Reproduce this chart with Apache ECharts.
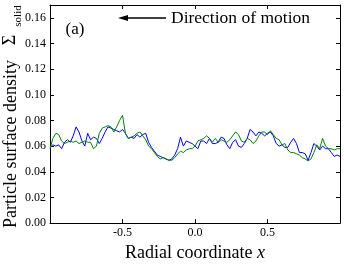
<!DOCTYPE html>
<html>
<head>
<meta charset="utf-8">
<script src="https://cdn.jsdelivr.net/npm/echarts@6/dist/echarts.min.js"></script>
<style>
  html, body { margin: 0; padding: 0; background: #fff; }
  #chart { width: 344px; height: 267px; }
</style>
</head>
<body>
<div id="chart"></div>
<script>
// radial grid: x from -1 to 1, one sample every 0.02
var xStart = -1;
var xStep = 0.02;

// blue run
var blueVals = [
  0.059, 0.061, 0.060, 0.061, 0.058, 0.063, 0.065, 0.063, 0.068, 0.075,
  0.071, 0.064, 0.060, 0.070, 0.065, 0.067, 0.066, 0.062, 0.066, 0.071,
  0.075, 0.074, 0.073, 0.072, 0.071, 0.073, 0.070, 0.066, 0.067, 0.066,
  0.069, 0.067, 0.069, 0.070, 0.063, 0.059, 0.056, 0.053, 0.052, 0.051,
  0.050, 0.049, 0.050, 0.053, 0.058, 0.067, 0.060, 0.064, 0.063, 0.062,
  0.060, 0.058, 0.064, 0.064, 0.062, 0.066, 0.062, 0.062, 0.063, 0.067,
  0.066, 0.061, 0.058, 0.063, 0.065, 0.060, 0.059, 0.062, 0.066, 0.073,
  0.071, 0.068, 0.071, 0.070, 0.068, 0.070, 0.071, 0.068, 0.062, 0.060,
  0.061, 0.059, 0.059, 0.063, 0.066, 0.062, 0.055, 0.055, 0.054, 0.049,
  0.055, 0.062, 0.060, 0.057, 0.060, 0.058, 0.058, 0.055, 0.052, 0.053,
  0.052
];

// green run
var greenVals = [
  0.058, 0.066, 0.070, 0.069, 0.064, 0.062, 0.063, 0.064, 0.063, 0.064,
  0.062, 0.063, 0.064, 0.063, 0.063, 0.058, 0.060, 0.070, 0.074, 0.075,
  0.076, 0.075, 0.071, 0.075, 0.080, 0.084, 0.070, 0.066, 0.067, 0.068,
  0.070, 0.071, 0.068, 0.065, 0.060, 0.058, 0.055, 0.052, 0.050, 0.051,
  0.050, 0.049, 0.049, 0.051, 0.054, 0.056, 0.055, 0.057, 0.058, 0.058,
  0.060, 0.064, 0.065, 0.066, 0.068, 0.066, 0.063, 0.066, 0.063, 0.065,
  0.064, 0.063, 0.065, 0.068, 0.071, 0.069, 0.064, 0.063, 0.066, 0.065,
  0.062, 0.064, 0.068, 0.071, 0.071, 0.069, 0.072, 0.069, 0.066, 0.065,
  0.061, 0.062, 0.057, 0.055, 0.055, 0.054, 0.053, 0.051, 0.050, 0.0485,
  0.050, 0.055, 0.061, 0.058, 0.066, 0.060, 0.058, 0.058, 0.057, 0.058,
  0.058
];

var xTickLabels = ['-0.5', '0.0', '0.5'];
var yTickLabels = ['0.00', '0.02', '0.04', '0.06', '0.08', '0.10', '0.12', '0.14', '0.16'];

function pairs(vals) {
  return vals.map(function (v, i) { return [xStart + i * xStep, v]; });
}

var serif = '"Liberation Serif", "DejaVu Serif", serif';
var tickStyle = { show: true, inside: true, length: 4, lineStyle: { color: '#000', width: 1 } };
var frameLine = { show: true, onZero: false, lineStyle: { color: '#000', width: 1 } };

var myChart = echarts.init(document.getElementById('chart'));
var option = {
  animation: false,
  grid: { left: 50, right: 4, top: 5, bottom: 38 },
  xAxis: [{
    type: 'value', min: -1, max: 1, interval: 0.5,
    axisLine: frameLine, axisTick: tickStyle, splitLine: { show: false },
    axisLabel: {
      color: '#000', fontFamily: serif, fontSize: 12, margin: 4,
      formatter: function (v) {
        var s = v.toFixed(1);
        return xTickLabels.indexOf(s) >= 0 ? s : '';
      }
    },
    name: 'Radial coordinate {i|x}', nameLocation: 'middle', nameGap: 14,
    nameTextStyle: {
      color: '#000', fontFamily: serif, fontSize: 18,
      rich: { i: { fontFamily: serif, fontSize: 18, fontStyle: 'italic', color: '#000' } }
    }
  }, {
    type: 'value', position: 'top', min: -1, max: 1, interval: 0.5,
    axisLine: frameLine, axisTick: tickStyle, splitLine: { show: false },
    axisLabel: { show: false }
  }],
  yAxis: [{
    type: 'value', position: 'left', min: 0, max: 0.17, interval: 0.02,
    axisLine: frameLine, axisTick: tickStyle, splitLine: { show: false },
    axisLabel: {
      color: '#000', fontFamily: serif, fontSize: 12, margin: 4,
      formatter: function (v) {
        var s = v.toFixed(2);
        return yTickLabels.indexOf(s) >= 0 ? s : '';
      }
    }
  }, {
    type: 'value', position: 'right', min: 0, max: 0.17, interval: 0.02,
    axisLine: frameLine, axisTick: tickStyle, splitLine: { show: false },
    axisLabel: { show: false }
  }],
  series: [{
    type: 'line', data: pairs(blueVals), showSymbol: false,
    lineStyle: { color: '#0000ff', width: 1 }
  }, {
    type: 'line', data: pairs(greenVals), showSymbol: false,
    lineStyle: { color: '#008000', width: 1 }
  }],
  graphic: [
    // y axis title
    { type: 'text', x: 11, y: 144, rotation: Math.PI / 2,
      style: { text: 'Particle surface density', font: '18px ' + serif, fill: '#000',
               textAlign: 'center', textVerticalAlign: 'middle' } },
    { type: 'text', x: 10, y: 40, rotation: Math.PI / 2,
      style: { text: 'Σ', font: '18px ' + serif, fill: '#000',
               textAlign: 'center', textVerticalAlign: 'middle' } },
    { type: 'text', x: 18, y: 16, rotation: Math.PI / 2,
      style: { text: 'solid', font: '11px ' + serif, fill: '#000',
               textAlign: 'center', textVerticalAlign: 'middle' } },
    // panel label
    { type: 'text', x: 75, y: 30,
      style: { text: '(a)', font: '17px ' + serif, fill: '#000',
               textAlign: 'center', textVerticalAlign: 'middle' } },
    // arrow + caption
    { type: 'line', shape: { x1: 126, y1: 18, x2: 166, y2: 18 },
      style: { stroke: '#000', lineWidth: 1.5 } },
    { type: 'polygon', shape: { points: [[118, 18], [128, 15], [128, 21]] },
      style: { fill: '#000' } },
    { type: 'text', x: 171, y: 18,
      style: { text: 'Direction of motion', font: '17.5px ' + serif, fill: '#000',
               textAlign: 'left', textVerticalAlign: 'middle' } }
  ]
};
myChart.setOption(option);
window.onresize = myChart.resize;
</script>
</body>
</html>
